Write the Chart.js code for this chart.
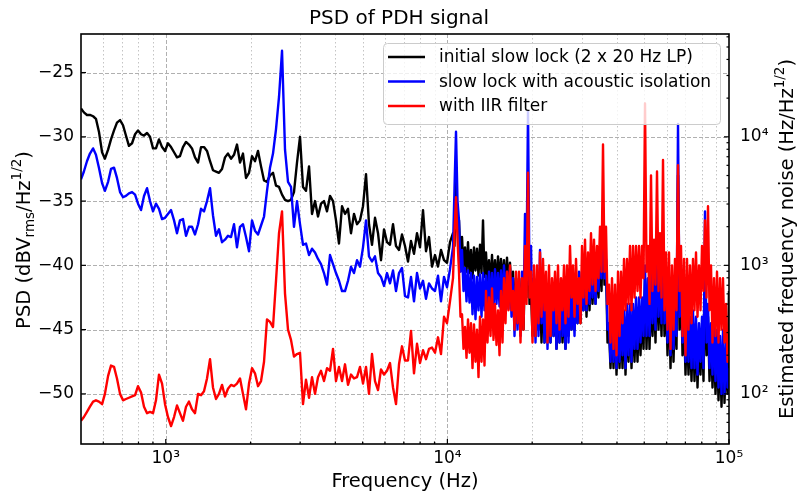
<!DOCTYPE html>
<html>
<head>
<meta charset="utf-8">
<script src="https://cdn.jsdelivr.net/npm/chart.js@4.4.1/dist/chart.umd.min.js"></script>
<style>
  html, body { margin: 0; padding: 0; background: #fff; }
  #wrap { width: 798px; height: 492px; }
</style>
</head>
<body>
<div id="wrap"><canvas id="psdChart" width="798" height="492"></canvas></div>
<script>
// frequency grid, 500 Hz .. 10.2 kHz (Hz)
var lowFreqHz = [
    500, 512, 525, 538, 552, 565, 579, 594, 608, 624,
    639, 655, 671, 688, 705, 722, 740, 759, 778, 797,
    817, 837, 858, 879, 901, 923, 946, 970, 994, 1018,
    1044, 1070, 1096, 1123, 1151, 1180, 1209, 1239, 1270, 1302,
    1334, 1367, 1401, 1436, 1471, 1508, 1545, 1584, 1623, 1663,
    1705, 1747, 1790, 1835, 1880, 1927, 1975, 2024, 2074, 2126,
    2179, 2233, 2288, 2345, 2403, 2463, 2524, 2587, 2651, 2717,
    2784, 2853, 2924, 2997, 3071, 3147, 3226, 3306, 3388, 3472,
    3558, 3646, 3737, 3830, 3925, 4022, 4122, 4225, 4330, 4437,
    4547, 4660, 4776, 4895, 5016, 5141, 5268, 5399, 5533, 5671,
    5811, 5956, 6104, 6255, 6411, 6570, 6733, 6900, 7071, 7247,
    7427, 7611, 7800, 7994, 8193, 8396, 8605, 8818, 9037, 9262,
    9491, 9727, 9969, 10216
];

// finer grid, 10.5 kHz .. 16.9 kHz (Hz)
var midFreqHz = [
    10470, 10599, 10730, 10863, 10996, 11132, 11270, 11409, 11549, 11692,
    11836, 11982, 12130, 12280, 12431, 12584, 12740, 12897, 13057, 13218,
    13381, 13546, 13713, 13882, 14054, 14228, 14403, 14581, 14760, 14942,
    15127, 15314, 15502, 15693, 15887, 16083, 16282, 16483, 16686, 16892
];

// finer grid, 17.1 kHz .. 100 kHz (Hz)
var highFreqHz = [
    17101, 17312, 17525, 17741, 17960, 18182, 18406, 18633, 18864, 19097,
    19332, 19571, 19812, 20057, 20304, 20555, 20809, 21066, 21325, 21588,
    21855, 22125, 22398, 22674, 22954, 23237, 23524, 23814, 24108, 24406,
    24707, 25012, 25320, 25633, 25949, 26269, 26593, 26921, 27254, 27590,
    27931, 28276, 28624, 28977, 29335, 29697, 30064, 30435, 30810, 31190,
    31576, 31966, 32358, 32757, 33162, 33571, 33985, 34404, 34830, 35260,
    35694, 36134, 36581, 37032, 37489, 37952, 38420, 38894, 39374, 39860,
    40353, 40851, 41355, 41865, 42382, 42905, 43434, 43970, 44513, 45062,
    45619, 46182, 46752, 47329, 47913, 48504, 49103, 49709, 50323, 50944,
    51572, 52208, 52850, 53502, 54163, 54831, 55508, 56193, 56887, 57589,
    58299, 59018, 59747, 60484, 61231, 61987, 62752, 63526, 64310, 65103,
    65907, 66720, 67540, 68373, 69218, 70072, 70937, 71812, 72699, 73596,
    74504, 75423, 76355, 77297, 78250, 79215, 80194, 81183, 82186, 83200,
    84227, 85266, 86318, 87383, 88462, 89553, 90659, 91777, 92911, 94057,
    95218, 96393, 97583, 98787, 100000
];

// initial slow lock (2 x 20 Hz LP), dBVrms/Hz^1/2
var slowLockLow = [
    -27.8, -28.1, -28.3, -28.3, -28.4, -28.6, -29.6, -31.2, -31.7, -31.0,
    -30.2, -29.5, -28.9, -28.7, -29.1, -29.9, -30.7, -30.5, -29.8, -29.5,
    -29.8, -29.9, -29.7, -30.0, -30.9, -30.9, -30.2, -30.8, -31.1, -30.5,
    -30.8, -31.2, -31.6, -31.5, -30.8, -30.4, -30.6, -30.9, -31.6, -32.0,
    -30.8, -30.8, -31.1, -31.9, -32.6, -32.7, -32.8, -32.5, -31.6, -31.3,
    -31.7, -31.4, -30.6, -32.0, -31.3, -33.2, -32.8, -31.5, -31.9, -31.1,
    -32.3, -33.4, -33.5, -33.0, -32.8, -33.8, -33.9, -34.5, -34.9, -35.0,
    -34.9, -34.3, -32.0, -30.0, -33.9, -34.2, -32.3, -36.0, -35.0, -36.2,
    -35.2, -35.0, -35.8, -34.6, -35.0, -36.5, -38.3, -35.4, -36.0, -35.6,
    -37.5, -36.0, -36.8, -36.5, -35.4, -32.9, -36.8, -38.4, -36.3, -37.5,
    -39.6, -37.2, -38.2, -38.4, -36.8, -38.5, -38.8, -37.6, -38.5, -39.7,
    -38.1, -39.1, -37.5, -38.6, -35.7, -38.9, -37.8, -40.1, -39.2, -40.1,
    -38.8, -39.6, -39.8, -38.2
];
var slowLockMid = [
    -37.5, -38.5, -33.0, -37.0, -36.5, -39.5, -37.8, -40.2, -38.6, -40.5,
    -38.2, -40.6, -38.8, -41.0, -38.6, -40.4, -38.7, -40.8, -38.4, -40.6,
    -36.5, -40.9, -39.0, -41.2, -39.6, -41.5, -39.2, -41.4, -39.6, -41.6,
    -39.3, -41.3, -39.5, -41.5, -39.6, -41.8, -39.4, -41.6, -39.8, -42.5
];
var slowLockHigh = [
    -40.5, -44.5, -41.0, -44.0, -41.0, -45.0, -41.0, -45.0, -40.0, -42.5,
    -36.0, -43.0, -42.0, -45.5, -41.5, -45.5, -41.5, -45.0, -42.0, -46.0,
    -42.0, -46.0, -42.0, -45.5, -42.5, -46.0, -42.5, -45.5, -43.0, -46.5,
    -42.5, -46.0, -42.5, -46.0, -43.0, -46.5, -42.5, -45.5, -42.0, -45.0,
    -42.0, -45.0, -41.0, -44.5, -41.5, -44.5, -40.5, -43.5, -40.0, -44.0,
    -40.5, -43.5, -40.0, -43.0, -40.5, -43.0, -40.0, -42.5, -39.0, -42.0,
    -36.5, -41.5, -40.0, -46.0, -45.0, -48.0, -44.5, -48.0, -44.0, -48.5,
    -44.5, -48.0, -44.5, -48.0, -44.0, -48.5, -44.0, -47.5, -43.5, -48.0,
    -44.0, -47.5, -43.5, -47.5, -43.5, -47.0, -43.5, -46.5, -41.0, -46.5,
    -42.0, -46.5, -42.0, -45.5, -42.0, -46.0, -40.0, -45.0, -41.5, -45.5,
    -39.5, -45.5, -42.0, -47.0, -42.0, -48.0, -43.0, -47.5, -43.0, -46.5,
    -33.0, -45.0, -41.0, -47.0, -44.0, -48.5, -44.5, -48.5, -45.0, -49.0,
    -44.5, -49.0, -45.0, -49.5, -45.5, -48.5, -45.0, -49.0, -41.0, -47.0,
    -44.0, -49.0, -45.5, -49.5, -46.0, -50.0, -46.0, -50.5, -46.5, -51.0,
    -46.5, -50.7, -47.0, -50.0, -42.0
];

// slow lock with acoustic isolation
var acousticLow = [
    -33.3, -32.7, -31.9, -31.3, -30.9, -31.4, -32.4, -33.6, -34.2, -33.5,
    -32.5, -32.4, -33.2, -34.3, -34.7, -34.6, -34.4, -34.3, -34.5, -35.2,
    -35.7, -34.6, -34.0, -35.0, -35.8, -35.2, -35.6, -36.4, -36.3, -36.0,
    -35.7, -36.5, -37.5, -36.5, -36.4, -37.7, -37.0, -37.0, -37.6, -36.8,
    -35.6, -35.8, -35.0, -34.0, -36.1, -37.7, -37.2, -38.2, -38.0, -37.7,
    -37.8, -36.8, -38.6, -37.0, -36.8, -37.8, -38.9, -36.5, -37.3, -37.6,
    -36.9, -36.2, -34.2, -32.4, -31.3, -29.4, -26.9, -23.3, -31.0, -33.5,
    -33.9, -37.0, -35.0, -36.8, -38.4, -38.3, -39.2, -38.7, -39.0, -39.5,
    -39.9, -40.6, -41.5, -39.2, -39.9, -40.6, -41.2, -42.0, -42.0, -41.2,
    -40.1, -40.6, -39.6, -40.1, -38.6, -36.5, -39.3, -39.7, -39.3, -40.6,
    -40.9, -41.6, -40.6, -41.4, -40.4, -42.0, -40.6, -40.2, -42.4, -42.5,
    -40.9, -42.8, -40.6, -41.8, -41.2, -42.6, -41.4, -41.8, -42.0, -40.8,
    -42.8, -40.9, -41.7, -40.3
];
var acousticMid = [
    -38.6, -34.0, -29.6, -35.0, -36.5, -40.5, -38.8, -42.0, -40.2, -42.8,
    -40.4, -42.9, -40.6, -43.8, -40.8, -44.2, -40.9, -43.5, -40.7, -44.0,
    -40.6, -43.5, -40.8, -43.8, -40.5, -43.2, -40.6, -43.4, -40.3, -43.0,
    -40.6, -43.2, -40.4, -43.0, -40.0, -42.6, -40.5, -43.4, -40.2, -44.0
];
var acousticHigh = [
    -41.0, -45.5, -41.5, -45.0, -41.5, -45.5, -40.5, -44.0, -36.0, -40.0,
    -28.0, -41.5, -38.5, -45.0, -41.0, -46.0, -41.0, -45.5, -38.8, -44.5,
    -41.5, -46.0, -42.0, -46.5, -41.5, -46.0, -42.0, -45.5, -42.0, -46.5,
    -41.0, -46.0, -41.5, -45.5, -42.5, -46.5, -42.0, -46.0, -41.5, -45.0,
    -42.0, -45.5, -41.0, -44.5, -40.5, -44.0, -40.5, -43.5, -39.5, -43.5,
    -40.0, -43.0, -39.5, -42.5, -40.0, -43.0, -39.5, -42.0, -38.5, -41.0,
    -35.5, -41.0, -39.5, -45.0, -44.5, -47.5, -44.0, -47.5, -44.5, -48.0,
    -43.5, -47.5, -44.0, -47.0, -43.5, -48.0, -43.0, -47.0, -43.0, -47.5,
    -43.0, -46.5, -42.5, -46.5, -42.5, -46.0, -42.5, -45.5, -40.0, -45.5,
    -41.0, -45.5, -40.5, -44.5, -41.0, -45.0, -38.0, -44.0, -40.5, -44.5,
    -37.5, -44.5, -41.0, -46.0, -41.0, -47.0, -42.0, -46.5, -42.5, -45.5,
    -29.0, -44.0, -40.0, -46.0, -43.0, -47.5, -43.5, -47.5, -44.0, -48.0,
    -43.5, -48.0, -44.0, -48.5, -44.5, -47.5, -44.0, -48.0, -35.8, -46.0,
    -43.0, -48.0, -44.5, -48.5, -44.5, -49.0, -45.0, -49.5, -45.5, -50.0,
    -45.0, -50.0, -46.0, -49.5, -48.0
];

// with IIR filter
var iirLow = [
    -52.1, -51.8, -51.4, -51.0, -50.6, -50.5, -50.6, -50.8, -50.0, -48.6,
    -47.8, -47.9, -48.8, -50.0, -50.5, -50.4, -50.3, -50.2, -50.1, -49.4,
    -49.9, -51.0, -51.5, -51.4, -51.5, -50.5, -48.5, -49.2, -50.8, -51.8,
    -52.5, -51.8, -50.9, -51.5, -52.1, -51.0, -50.6, -51.2, -51.5, -50.0,
    -50.1, -49.8, -48.8, -47.3, -49.5, -50.4, -50.0, -49.3, -50.2, -49.6,
    -49.3, -49.4, -49.2, -48.8, -50.0, -51.2, -49.2, -48.0, -48.4, -49.4,
    -49.0, -47.5, -44.2, -44.4, -44.8, -41.2, -37.5, -35.8, -42.2, -45.0,
    -45.8, -47.1, -46.9, -46.8, -50.8, -48.9, -50.3, -48.7, -50.0, -48.7,
    -48.2, -49.0, -48.0, -48.2, -46.5, -49.0, -47.9, -49.0, -47.7, -49.3,
    -48.5, -48.8, -48.7, -47.9, -49.2, -47.9, -50.0, -46.9, -49.0, -49.7,
    -48.1, -48.5, -48.2, -47.6, -49.5, -50.8, -47.7, -46.3, -47.4, -47.4,
    -45.1, -48.4, -46.1, -47.6, -46.6, -47.3, -46.5, -46.4, -46.8, -45.6,
    -46.9, -44.0, -44.5, -42.8
];
var iirMid = [
    -41.0, -37.5, -34.7, -38.0, -40.5, -44.0, -43.8, -46.5, -44.8, -47.2,
    -44.2, -46.8, -44.5, -48.0, -44.6, -47.5, -45.0, -48.7, -44.0, -47.5,
    -44.2, -47.8, -42.0, -46.0, -42.5, -45.5, -41.8, -45.8, -43.0, -46.2,
    -43.5, -47.0, -42.0, -46.0, -41.0, -44.5, -40.5, -43.5, -40.0, -43.5
];
var iirHigh = [
    -42.0, -45.0, -40.5, -44.5, -40.5, -46.0, -41.0, -45.0, -38.5, -43.0,
    -32.8, -42.5, -40.5, -46.0, -40.0, -45.5, -40.0, -44.5, -39.0, -44.0,
    -39.5, -43.5, -40.5, -46.0, -40.0, -45.5, -41.0, -43.5, -40.5, -44.5,
    -40.0, -45.0, -41.0, -43.5, -40.0, -44.5, -40.0, -44.0, -38.5, -42.5,
    -40.0, -44.0, -39.5, -43.0, -41.0, -44.5, -38.5, -42.5, -38.0, -43.0,
    -39.0, -42.0, -37.5, -41.5, -38.0, -42.0, -38.5, -41.0, -37.0, -40.5,
    -30.6, -40.5, -37.0, -43.0, -41.5, -46.0, -41.0, -46.5, -41.5, -47.0,
    -40.5, -45.5, -40.5, -44.5, -39.5, -43.5, -39.5, -43.0, -38.5, -43.5,
    -38.5, -42.5, -38.5, -42.0, -38.5, -42.5, -38.5, -41.0, -27.4, -40.5,
    -38.5, -43.0, -33.0, -42.0, -38.0, -41.5, -32.7, -42.0, -37.5, -42.5,
    -31.8, -43.5, -39.0, -45.0, -39.0, -46.5, -40.0, -45.0, -39.5, -43.5,
    -32.2, -42.0, -38.5, -45.5, -39.5, -47.0, -39.5, -45.0, -40.0, -44.5,
    -39.5, -43.5, -39.0, -44.0, -40.0, -43.5, -38.5, -42.0, -36.5, -42.5,
    -35.4, -43.5, -40.0, -46.0, -41.0, -45.5, -40.5, -46.0, -41.0, -45.0,
    -41.0, -46.0, -43.0, -47.5, -47.0
];

var seriesLabels = [
    'initial slow lock (2 x 20 Hz LP)',
    'slow lock with acoustic isolation',
    'with IIR filter'
];
var seriesColors = ['#000000', '#0000ff', '#ff0000'];

var psdTicks = [-50, -45, -40, -35, -30, -25];
var freqTicks = [1000, 10000, 100000];
var noiseTicks = [100, 1000, 10000];
var freqMinor = [600, 700, 800, 900, 2000, 3000, 4000, 5000, 6000, 7000, 8000, 9000,
    20000, 30000, 40000, 50000, 60000, 70000, 80000, 90000];
var noiseMinor = [50, 60, 70, 80, 90, 200, 300, 400, 500, 600, 700, 800, 900,
    2000, 3000, 4000, 5000, 6000, 7000, 8000, 9000, 20000, 30000, 40000, 50000, 60000];

var psdMin = -53.9;
var psdMax = -22;
var sup = { 2: '\u00b2', 3: '\u00b3', 4: '\u2074', 5: '\u2075' };

var freqHz = lowFreqHz.concat(midFreqHz, highFreqHz);

function powLabel(v) {
    var e = Math.round(Math.log10(v));
    return '10' + sup[e];
}

function toPoints(values) {
    return values.map(function (v, i) { return { x: freqHz[i], y: v }; });
}

function drawRich(ctx, parts, cx, cy) {
    var total = 0;
    parts.forEach(function (p) {
        ctx.font = p.size + 'px "DejaVu Sans"';
        p.w = ctx.measureText(p.t).width;
        total += p.w;
    });
    var x = cx - total / 2;
    ctx.textAlign = 'left';
    ctx.textBaseline = 'alphabetic';
    parts.forEach(function (p) {
        ctx.font = p.size + 'px "DejaVu Sans"';
        ctx.fillText(p.t, x, cy + p.dy);
        x += p.w;
    });
}

var decorations = {
    id: 'decorations',
    beforeDatasetsDraw: function (chart) {
        var ctx = chart.ctx, a = chart.chartArea;
        var xs = chart.scales.x, ys = chart.scales.y;
        ctx.save();
        ctx.beginPath();
        ctx.rect(a.left, a.top, a.right - a.left, a.bottom - a.top);
        ctx.clip();
        ctx.lineWidth = 1;
        ctx.strokeStyle = '#c4c4c4';
        ctx.setLineDash([1.5, 2.5]);
        freqMinor.forEach(function (f) {
            var px = Math.round(xs.getPixelForValue(f)) + 0.5;
            ctx.beginPath(); ctx.moveTo(px, a.top); ctx.lineTo(px, a.bottom); ctx.stroke();
        });
        ctx.strokeStyle = '#b0b0b0';
        ctx.setLineDash([4, 2]);
        freqTicks.forEach(function (f) {
            var px = Math.round(xs.getPixelForValue(f)) + 0.5;
            ctx.beginPath(); ctx.moveTo(px, a.top); ctx.lineTo(px, a.bottom); ctx.stroke();
        });
        psdTicks.forEach(function (v) {
            var py = Math.round(ys.getPixelForValue(v)) + 0.5;
            ctx.beginPath(); ctx.moveTo(a.left, py); ctx.lineTo(a.right, py); ctx.stroke();
        });
        ctx.restore();
    },
    afterDraw: function (chart) {
        var ctx = chart.ctx, a = chart.chartArea;
        var xs = chart.scales.x, ys = chart.scales.y, y2 = chart.scales.y2;
        ctx.save();

        // inward tick marks
        ctx.strokeStyle = '#000';
        ctx.lineWidth = 1.2;
        function tick(x0, y0, x1, y1) {
            ctx.beginPath(); ctx.moveTo(x0, y0); ctx.lineTo(x1, y1); ctx.stroke();
        }
        freqTicks.forEach(function (f) {
            var px = xs.getPixelForValue(f);
            tick(px, a.bottom, px, a.bottom - 5);
        });
        freqMinor.forEach(function (f) {
            var px = xs.getPixelForValue(f);
            tick(px, a.bottom, px, a.bottom - 2.5);
        });
        psdTicks.forEach(function (v) {
            var py = ys.getPixelForValue(v);
            tick(a.left, py, a.left + 5, py);
        });
        noiseTicks.forEach(function (v) {
            var py = y2.getPixelForValue(v);
            tick(a.right, py, a.right - 5, py);
        });
        noiseMinor.forEach(function (v) {
            var py = y2.getPixelForValue(v);
            if (py > a.top && py < a.bottom) tick(a.right, py, a.right - 2.5, py);
        });

        // frame
        ctx.lineWidth = 1.6;
        ctx.strokeRect(a.left, a.top, a.right - a.left, a.bottom - a.top);

        // legend
        var lx = a.right - 346, ly = a.top + 9, lw = 337, lh = 81;
        ctx.beginPath();
        ctx.roundRect(lx + 0.5, ly + 0.5, lw, lh, 4);
        ctx.fillStyle = 'rgba(255,255,255,0.8)';
        ctx.fill();
        ctx.lineWidth = 1;
        ctx.strokeStyle = '#cccccc';
        ctx.stroke();
        ctx.font = '17px "DejaVu Sans"';
        ctx.textAlign = 'left';
        ctx.textBaseline = 'middle';
        seriesLabels.forEach(function (lab, i) {
            var ry = ly + 14 + i * 24.5;
            ctx.strokeStyle = seriesColors[i];
            ctx.lineWidth = 2.5;
            ctx.beginPath(); ctx.moveTo(lx + 5, ry); ctx.lineTo(lx + 42, ry); ctx.stroke();
            ctx.fillStyle = '#000';
            ctx.fillText(lab, lx + 56, ry + 1);
        });

        // axis titles
        ctx.fillStyle = '#000';
        drawRich(ctx, [{ t: 'Frequency (Hz)', size: 19.5, dy: 0 }], (a.left + a.right) / 2, 487);

        ctx.save();
        ctx.translate(30, (a.top + a.bottom) / 2 + 1);
        ctx.rotate(-Math.PI / 2);
        drawRich(ctx, [
            { t: 'PSD (dBV', size: 19.5, dy: 0 },
            { t: 'rms', size: 13.5, dy: 4 },
            { t: '/Hz', size: 19.5, dy: 0 },
            { t: '1/2', size: 13.5, dy: -9 },
            { t: ')', size: 19.5, dy: 0 }
        ], 0, 0);
        ctx.restore();

        ctx.save();
        ctx.translate(793, (a.top + a.bottom) / 2);
        ctx.rotate(-Math.PI / 2);
        drawRich(ctx, [
            { t: 'Estimated frequency noise (Hz/Hz', size: 19.5, dy: 0 },
            { t: '1/2', size: 13.5, dy: -9 },
            { t: ')', size: 19.5, dy: 0 }
        ], 0, 0);
        ctx.restore();

        ctx.restore();
    }
};

document.addEventListener('DOMContentLoaded', function () {
    Chart.defaults.font.family = '"DejaVu Sans"';
    var ctx = document.getElementById('psdChart').getContext('2d');
    var traces = [
        slowLockLow.concat(slowLockMid, slowLockHigh),
        acousticLow.concat(acousticMid, acousticHigh),
        iirLow.concat(iirMid, iirHigh)
    ];
    new Chart(ctx, {
        type: 'line',
        data: {
            datasets: traces.map(function (vals, i) {
                return {
                    label: seriesLabels[i],
                    data: toPoints(vals),
                    borderColor: seriesColors[i],
                    borderWidth: 2.4,
                    pointRadius: 0,
                    tension: 0,
                    fill: false,
                    borderJoinStyle: 'round',
                    order: 3 - i
                };
            })
        },
        options: {
            responsive: false,
            devicePixelRatio: 1,
            animation: false,
            layout: { padding: 0 },
            plugins: {
                legend: { display: false },
                tooltip: { enabled: false },
                title: {
                    display: true,
                    text: 'PSD of PDH signal',
                    color: '#000',
                    font: { size: 20, weight: 'normal' },
                    padding: { top: 7, bottom: 3 }
                }
            },
            scales: {
                x: {
                    type: 'logarithmic',
                    position: 'bottom',
                    min: 500,
                    max: 100000,
                    grid: { display: false, drawTicks: false, tickLength: 0 },
                    border: { display: false },
                    afterBuildTicks: function (scale) {
                        scale.ticks = freqTicks.map(function (v) { return { value: v }; });
                    },
                    afterFit: function (scale) { scale.height = 48; },
                    ticks: {
                        color: '#000',
                        font: { size: 17 },
                        padding: 4,
                        maxRotation: 0,
                        autoSkip: false,
                        callback: function (v) { return powLabel(v); }
                    }
                },
                y: {
                    type: 'linear',
                    position: 'left',
                    min: psdMin,
                    max: psdMax,
                    grid: { display: false, drawTicks: false, tickLength: 0 },
                    border: { display: false },
                    afterBuildTicks: function (scale) {
                        scale.ticks = psdTicks.map(function (v) { return { value: v }; });
                    },
                    afterFit: function (scale) { scale.width = 81; },
                    ticks: {
                        color: '#000',
                        font: { size: 17 },
                        padding: 7,
                        callback: function (v) { return '\u2212' + Math.abs(v); }
                    }
                },
                y2: {
                    type: 'logarithmic',
                    position: 'right',
                    min: Math.pow(10, 7 + psdMin / 10),
                    max: Math.pow(10, 7 + psdMax / 10),
                    grid: { display: false, drawTicks: false, tickLength: 0 },
                    border: { display: false },
                    afterBuildTicks: function (scale) {
                        scale.ticks = noiseTicks.map(function (v) { return { value: v }; });
                    },
                    afterFit: function (scale) { scale.width = 69; },
                    ticks: {
                        color: '#000',
                        font: { size: 17 },
                        padding: 11,
                        autoSkip: false,
                        callback: function (v) { return powLabel(v); }
                    }
                }
            }
        },
        plugins: [decorations]
    });
});
</script>
</body>
</html>
